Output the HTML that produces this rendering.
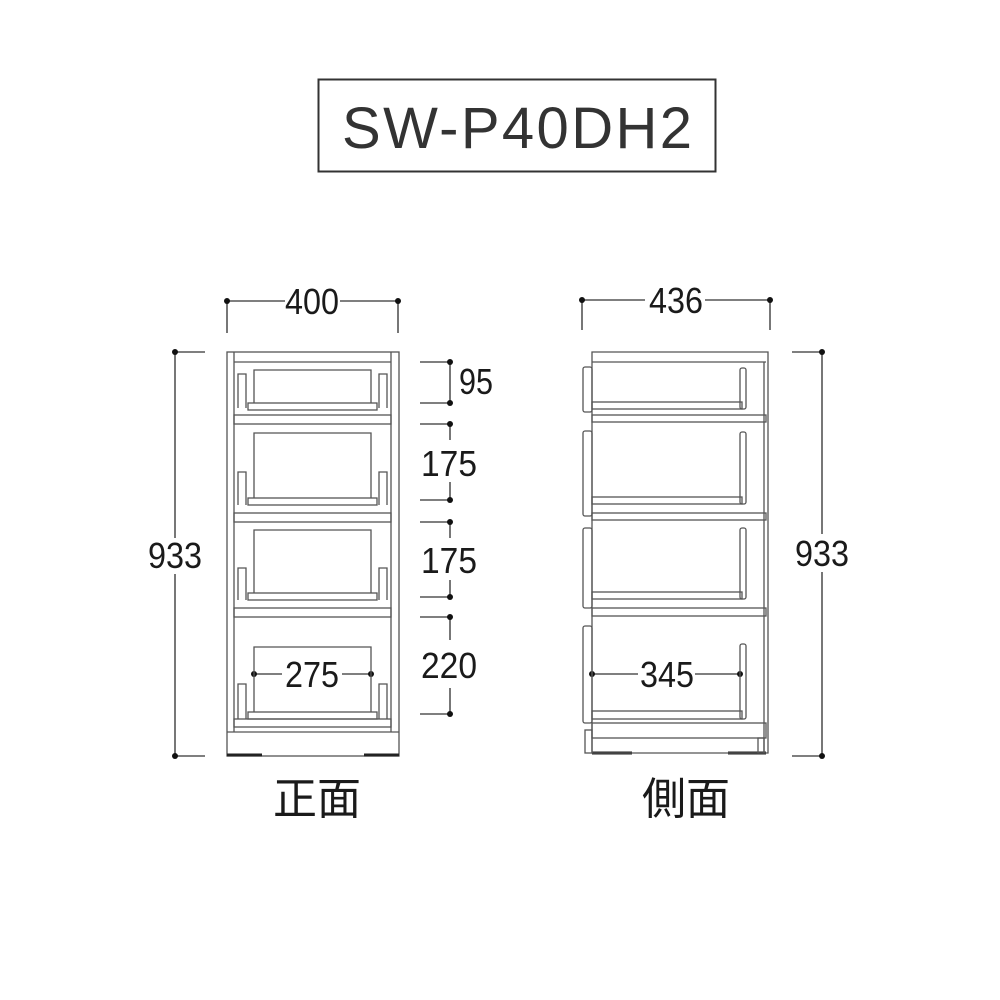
<!DOCTYPE html>
<html><head><meta charset="utf-8"><style>
html,body{margin:0;padding:0;background:#fff;}
svg{display:block}
text{font-family:"Liberation Sans","Noto Sans CJK JP",sans-serif;fill:#1a1a1a}
</style></head><body>
<svg width="1000" height="1000" viewBox="0 0 1000 1000" xmlns="http://www.w3.org/2000/svg">
<rect x="318.5" y="79.5" width="397" height="92" fill="none" stroke="#333" stroke-width="2"/>
<text x="517" y="148" font-size="58" text-anchor="middle" textLength="350" lengthAdjust="spacing" style="fill:#333">SW-P40DH2</text>

<g stroke="#555" stroke-width="1.6" fill="none">
<line x1="227" y1="301" x2="285" y2="301"/><line x1="340" y1="301" x2="398" y2="301"/>
<line x1="227" y1="301" x2="227" y2="333"/><line x1="398" y1="301" x2="398" y2="333"/>
<line x1="175" y1="352" x2="175" y2="538"/><line x1="175" y1="574" x2="175" y2="756"/>
<line x1="175" y1="352" x2="205" y2="352"/><line x1="175" y1="756" x2="205" y2="756"/>
<line x1="420" y1="362" x2="450" y2="362"/><line x1="420" y1="403" x2="450" y2="403"/><line x1="450" y1="362" x2="450" y2="403"/>
<line x1="420" y1="424" x2="450" y2="424"/><line x1="420" y1="500" x2="450" y2="500"/><line x1="450" y1="424" x2="450" y2="440"/><line x1="450" y1="482" x2="450" y2="500"/>
<line x1="420" y1="522" x2="450" y2="522"/><line x1="420" y1="597" x2="450" y2="597"/><line x1="450" y1="522" x2="450" y2="538"/><line x1="450" y1="580" x2="450" y2="597"/>
<line x1="420" y1="617" x2="450" y2="617"/><line x1="420" y1="714" x2="450" y2="714"/><line x1="450" y1="617" x2="450" y2="640"/><line x1="450" y1="688" x2="450" y2="714"/>
<line x1="254" y1="674" x2="282" y2="674"/><line x1="342" y1="674" x2="371" y2="674"/>
<line x1="582" y1="300" x2="645" y2="300"/><line x1="705" y1="300" x2="770" y2="300"/>
<line x1="582" y1="300" x2="582" y2="330"/><line x1="770" y1="300" x2="770" y2="330"/>
<line x1="822" y1="352" x2="822" y2="534"/><line x1="822" y1="572" x2="822" y2="756"/>
<line x1="792" y1="352" x2="822" y2="352"/><line x1="792" y1="756" x2="822" y2="756"/>
<line x1="592" y1="674" x2="638" y2="674"/><line x1="695" y1="674" x2="740" y2="674"/>
</g>
<g fill="#111">
<circle cx="227" cy="301" r="3"/><circle cx="398" cy="301" r="3"/>
<circle cx="175" cy="352" r="3"/><circle cx="175" cy="756" r="3"/>
<circle cx="450" cy="362" r="3"/><circle cx="450" cy="403" r="3"/>
<circle cx="450" cy="424" r="3"/><circle cx="450" cy="500" r="3"/>
<circle cx="450" cy="522" r="3"/><circle cx="450" cy="597" r="3"/>
<circle cx="450" cy="617" r="3"/><circle cx="450" cy="714" r="3"/>
<circle cx="254" cy="674" r="3"/><circle cx="371" cy="674" r="3"/>
<circle cx="582" cy="300" r="3"/><circle cx="770" cy="300" r="3"/>
<circle cx="822" cy="352" r="3"/><circle cx="822" cy="756" r="3"/>
<circle cx="592" cy="674" r="3"/><circle cx="740" cy="674" r="3"/>
</g>
<g font-size="36" text-anchor="middle">
<text x="312" y="314" textLength="54" lengthAdjust="spacingAndGlyphs">400</text>
<text x="175" y="568" textLength="54" lengthAdjust="spacingAndGlyphs">933</text>
<text x="476" y="394" textLength="34" lengthAdjust="spacingAndGlyphs">95</text>
<text x="449" y="476" textLength="56" lengthAdjust="spacingAndGlyphs">175</text>
<text x="449" y="573" textLength="56" lengthAdjust="spacingAndGlyphs">175</text>
<text x="449" y="678" textLength="56" lengthAdjust="spacingAndGlyphs">220</text>
<text x="312" y="687" textLength="54" lengthAdjust="spacingAndGlyphs">275</text>
<text x="676" y="313" textLength="54" lengthAdjust="spacingAndGlyphs">436</text>
<text x="822" y="566" textLength="54" lengthAdjust="spacingAndGlyphs">933</text>
<text x="667" y="687" textLength="54" lengthAdjust="spacingAndGlyphs">345</text>
</g>
<text x="317" y="814" font-size="44" text-anchor="middle">正面</text>
<text x="686" y="814" font-size="44" text-anchor="middle">側面</text>

<g stroke="#555" stroke-width="1.3" fill="none">
<rect x="227" y="352" width="172" height="404"/>
<line x1="234" y1="352" x2="234" y2="732"/><line x1="391" y1="352" x2="391" y2="732"/>
<line x1="234" y1="362" x2="391" y2="362"/>
<line x1="227" y1="732" x2="399" y2="732"/>
<rect x="234" y="415" width="157" height="9"/>
<rect x="234" y="513" width="157" height="9"/>
<rect x="234" y="608" width="157" height="9"/>
<rect x="234" y="719" width="157" height="8"/>
<path d="M254 403 V370 H371 V403"/>
<path d="M254 498 V433 H371 V498"/>
<path d="M254 593 V530 H371 V593"/>
<path d="M254 712 V647 H371 V712"/>
<rect x="248" y="403" width="129" height="7"/>
<rect x="248" y="498" width="129" height="7"/>
<rect x="248" y="593" width="129" height="7"/>
<rect x="248" y="712" width="129" height="7"/>
<path d="M238 408 V374 H246 V408 M387 408 V374 H379 V408"/>
<path d="M238 505 V472 H246 V505 M387 505 V472 H379 V505"/>
<path d="M238 600 V568 H246 V600 M387 600 V568 H379 V600"/>
<path d="M238 719 V684 H246 V719 M387 719 V684 H379 V719"/>
</g>
<g stroke="#222" stroke-width="3">
<line x1="227" y1="755" x2="262" y2="755"/><line x1="364" y1="755" x2="399" y2="755"/>
<line x1="592" y1="753" x2="632" y2="753"/><line x1="728" y1="753" x2="766" y2="753"/>
</g>

<g stroke="#555" stroke-width="1.3" fill="none">
<path d="M592 352 H768 V753 H592 Z"/>
<line x1="764" y1="362" x2="764" y2="753"/>
<line x1="592" y1="362" x2="766" y2="362"/>
<rect x="592" y="415" width="174" height="7"/>
<rect x="592" y="513" width="174" height="7"/>
<rect x="592" y="608" width="174" height="8"/>
<rect x="592" y="723" width="174" height="15"/>
<rect x="592" y="402" width="150" height="7"/>
<rect x="592" y="497" width="150" height="7"/>
<rect x="592" y="592" width="150" height="7"/>
<rect x="592" y="711" width="150" height="8"/>
<rect x="740" y="368" width="6" height="41" rx="2"/>
<rect x="740" y="432" width="6" height="72" rx="2"/>
<rect x="740" y="528" width="6" height="71" rx="2"/>
<rect x="740" y="644" width="6" height="75" rx="2"/>
<rect x="583" y="367" width="9" height="45" rx="2"/>
<rect x="583" y="431" width="9" height="85" rx="2"/>
<rect x="583" y="528" width="9" height="80" rx="2"/>
<rect x="583" y="626" width="9" height="97" rx="2"/>
<rect x="585" y="730" width="7" height="23"/>
<rect x="758" y="738" width="6" height="15"/>
</g>
</svg>
</body></html>
